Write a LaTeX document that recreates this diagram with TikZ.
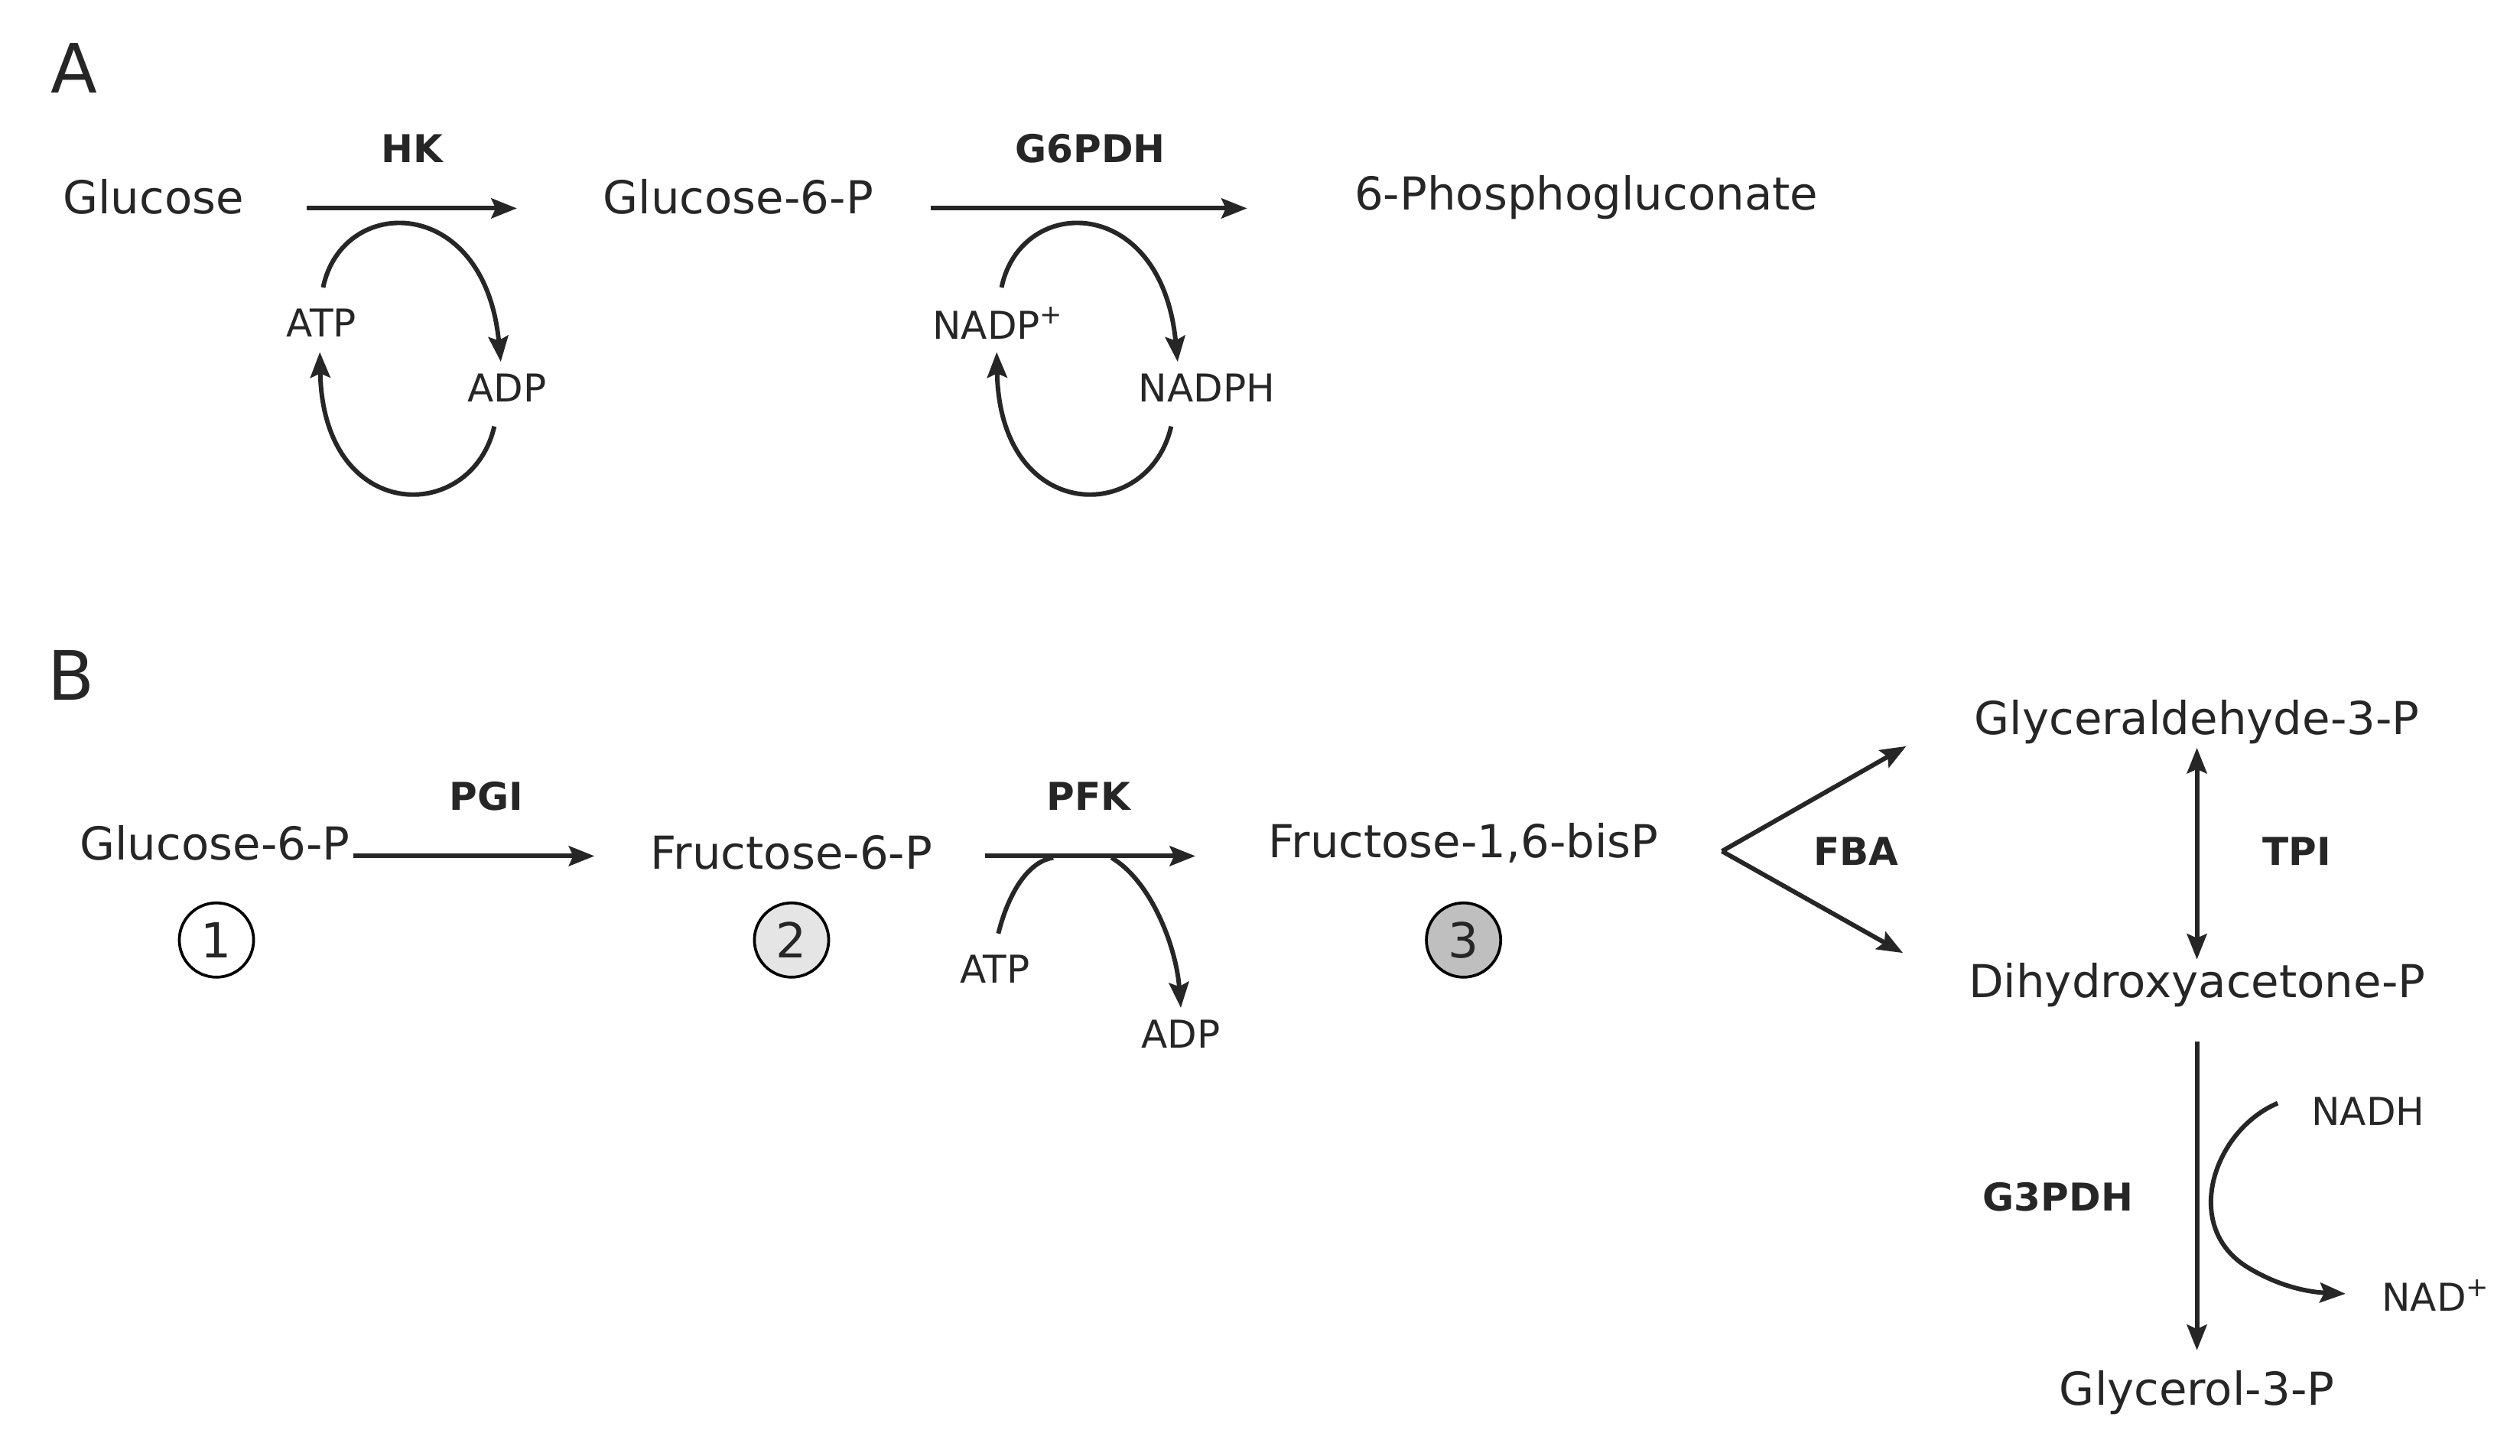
\documentclass[tikz,border=0pt]{standalone}
\usepackage{fontspec}
\setmainfont{DejaVu Sans}
\usetikzlibrary{arrows.meta}
\tikzset{
 met/.style={inner sep=1pt,font=\fontsize{16}{18}\selectfont},
 sml/.style={inner sep=1pt,font=\fontsize{13.5}{15}\selectfont},
 enz/.style={inner sep=1pt,font=\bfseries\fontsize{13.5}{15}\selectfont},
 pan/.style={inner sep=1pt,font=\fontsize{24}{26}\selectfont},
 num/.style={circle,draw,line width=1pt,minimum size=0.92cm,inner sep=0pt,font=\fontsize{17}{18}\selectfont},
 rx/.style={line width=1.6pt,draw=black!85,-{Stealth[length=9pt,width=7pt,inset=1.5pt]}},
 ln/.style={line width=1.6pt,draw=black!85},
}
\begin{document}
\begin{tikzpicture}[x=0.02cm,y=-0.02cm,text=black!85]
\useasboundingbox (0,0) rectangle (1560,901);
% Panel A
\node[pan] (pA) at (46,42) {A};
\node[met] (glc) at (95,122) {Glucose};
\node[met] (g6p) at (457,122) {Glucose-6-P};
\node[met] (pg) at (982,122) {6-Phosphogluconate};
\node[enz] (hk) at (255,92) {HK};
\node[enz] (g6pdh) at (675,92) {G6PDH};
\coordinate (hk1) at (190,129); \coordinate (hk2) at (320,129);
\draw[rx] (hk1) -- (hk2);
\coordinate (g61) at (576,129); \coordinate (g62) at (772,129);
\draw[rx] (g61) -- (g62);
\node[sml] (atp1) at (199,200) {ATP};
\node[sml] (adp1) at (314,240) {ADP};
\coordinate (a1) at (200,178); \coordinate (a2) at (310,224);
\coordinate (a3) at (306,264); \coordinate (a4) at (198,218);
\draw[rx] (a1) .. controls (212,120) and (300,120) .. (a2);
\draw[rx] (a3) .. controls (292,325) and (200,325) .. (a4);
\node[sml] (nadp) at (618,200) {NADP\textsuperscript{+}};
\node[sml] (nadph) at (747,240) {NADPH};
\coordinate (b1) at (620,178); \coordinate (b2) at (729,224);
\coordinate (b3) at (725,264); \coordinate (b4) at (617,218);
\draw[rx] (b1) .. controls (632,120) and (719,120) .. (b2);
\draw[rx] (b3) .. controls (711,325) and (619,325) .. (b4);
% Panel B
\node[pan] (pB) at (44,418) {B};
\node[met] (g6pb) at (133,522) {Glucose-6-P};
\node[met] (f6p) at (490,528) {Fructose-6-P};
\node[met] (fbp) at (906,522) {Fructose-1,6-bisP};
\node[met] (gap) at (1360,447) {Glyceraldehyde-3-P};
\node[met] (dhap) at (1360,610) {Dihydroxyacetone-P};
\node[met] (g3p) at (1360,862) {Glycerol-3-P};
\node[num,fill=white] (n1) at (134,582) {1};
\node[num,fill=black!10] (n2) at (490,582) {2};
\node[num,fill=black!25] (n3) at (906,582) {3};
\node[enz] (pgi) at (301,493) {PGI};
\node[enz] (pfk) at (674,493) {PFK};
\node[enz] (fba) at (1149,527) {FBA};
\node[enz] (tpi) at (1422,527) {TPI};
\node[enz] (g3pdh) at (1274,741) {G3PDH};
\draw[rx] (g6pb.east) ++(0,8) coordinate (p1) (p1) -- (368,530) coordinate (p2);
\coordinate (q1) at (610,530); \coordinate (q2) at (740,530);
\draw[rx] (q1) -- (q2);
\node[sml] (atp2) at (616,600) {ATP};
\node[sml] (adp2) at (731,640) {ADP};
\coordinate (c1) at (618,578); \coordinate (c2) at (652,531);
\draw[ln] (c1) .. controls (625,550) and (638,533) .. (c2);
\coordinate (d1) at (688,531); \coordinate (d2) at (731,624);
\draw[rx] (d1) .. controls (712,545) and (728,585) .. (d2);
\coordinate (v) at (1066,527);
\draw[rx] (v) -- (1180,462);
\draw[rx] (v) -- (1178,590);
\draw[ln,{Stealth[length=9pt,width=7pt,inset=1.5pt]}-{Stealth[length=9pt,width=7pt,inset=1.5pt]}] (1360,463) coordinate (t1) -- (1360,594) coordinate (t2);
\draw[rx] (1360,645) coordinate (r1) -- (1360,836) coordinate (r2);
\node[sml] (nadh) at (1466,688) {NADH};
\node[sml] (nad) at (1508,802) {NAD\textsuperscript{+}};
\coordinate (e1) at (1410,683); \coordinate (e2) at (1452,801);
\draw[rx] (e1) .. controls (1370,700) and (1350,760) .. (1392,785) .. controls (1412,797) and (1430,800) .. (e2);
\end{tikzpicture}
\end{document}
